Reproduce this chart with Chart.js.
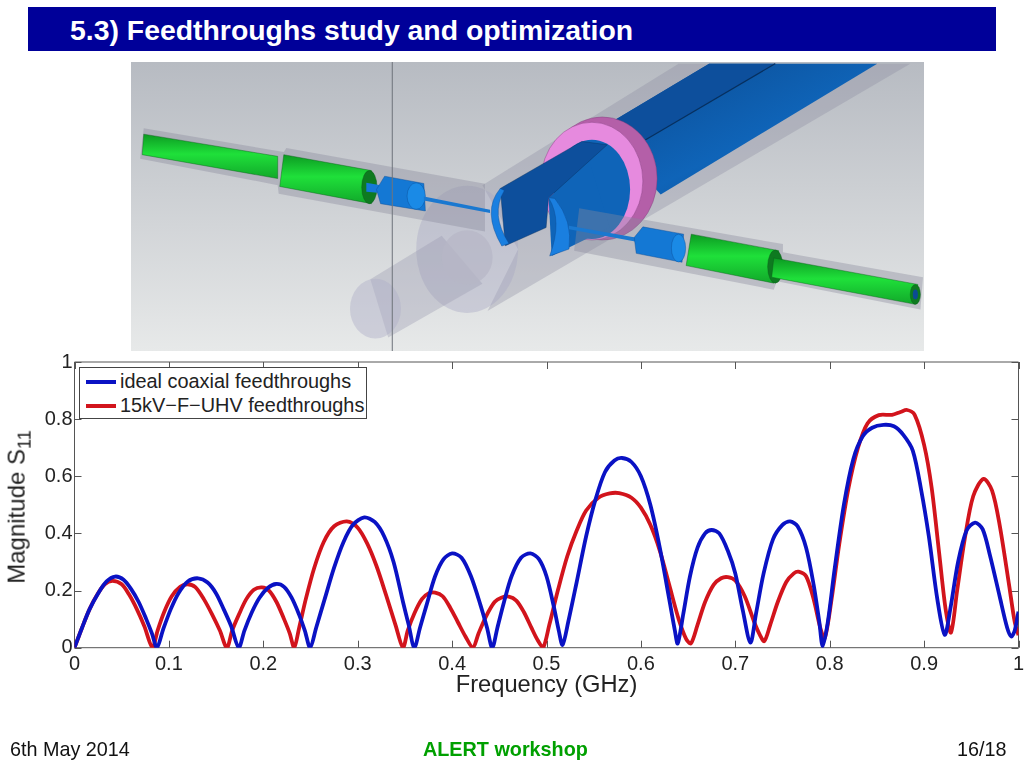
<!DOCTYPE html>
<html>
<head>
<meta charset="utf-8">
<title>Feedthroughs study and optimization</title>
<script src="https://cdn.jsdelivr.net/npm/chart.js@4/dist/chart.umd.min.js"></script>
<style>
html, body { margin: 0; padding: 0; background: #fff; font-family: "Liberation Sans", Arial, sans-serif; }
#page { position: relative; width: 1024px; height: 768px; overflow: hidden; }
#page > * { position: absolute; }
#titlebar { left: 28px; top: 7px; width: 968px; height: 44px; background: #000099; color: #fff; font-weight: bold; font-size: 28.4px; line-height: 46px; }
#titlebar span { margin-left: 42px; }
#model { left: 131px; top: 62px; }
#chart { left: 0; top: 0; }
#ylabel { left: 19px; top: 507px; font-size: 24px; color: #222; white-space: nowrap; transform: translate(-50%, -50%) rotate(-90deg); }
#ylabel sub { font-size: 18px; }
#legend { left: 79px; top: 367px; width: 286px; height: 50px; background: #fff; border: 1px solid #444; color: #222; font-size: 19.9px; }
#legend div { position: absolute; left: 6px; height: 24px; line-height: 24px; white-space: nowrap; }
#legend i { display: inline-block; width: 30px; height: 3.5px; vertical-align: middle; margin-right: 4px; position: relative; top: -1px; }
.foot { top: 738px; font-size: 19.8px; line-height: 22px; color: #111; }
</style>
</head>
<body>
<div id="page">
  <div id="titlebar"><span>5.3) Feedthroughs study and optimization</span></div>

  <svg id="model" width="793" height="289" viewBox="0 0 1557 873" preserveAspectRatio="none">
    <defs>
      <linearGradient id="bg" x1="0" y1="0" x2="0" y2="1"><stop offset="0" stop-color="#b7bbc2"/><stop offset="1" stop-color="#e7e9e9"/></linearGradient>
      <linearGradient id="bl" x1="0" y1="0" x2="1" y2="1"><stop offset="0" stop-color="#0b4b92"/><stop offset="0.55" stop-color="#0f64b8"/><stop offset="1" stop-color="#0a4686"/></linearGradient>
      <linearGradient id="gr" x1="0" y1="0" x2="0" y2="1"><stop offset="0" stop-color="#0c9a22"/><stop offset="0.45" stop-color="#1fe03a"/><stop offset="1" stop-color="#11a82a"/></linearGradient>
    </defs>
    <rect width="1557" height="873" fill="url(#bg)"/>
    <!-- outer transparent tubes -->
    <polygon points="1075,5 1530,5 700,752 760,566 690,372" fill="#8a8aa0" fill-opacity=".32"/>
    <ellipse cx="660" cy="566" rx="100" ry="192" fill="#a8a8c4" fill-opacity=".4"/>
    <polygon points="470,656 610,525 690,670 505,832" fill="#9898b0" fill-opacity=".35"/>
    <ellipse cx="480" cy="745" rx="50" ry="90" fill="#b0b0c8" fill-opacity=".45"/>
    <ellipse cx="660" cy="590" rx="50" ry="82" fill="#b6b6c6" fill-opacity=".7"/>
    <polygon points="25,200 300,272 305,260 695,368 695,512 290,398 288,372 18,292" fill="#8a8a9c" fill-opacity=".38"/>
    <!-- left green conductor -->
    <polygon points="25,218 288,285 288,352 22,280" fill="url(#gr)" stroke="#0a5c18"/>
    <polygon points="300,280 472,328 472,428 292,376" fill="url(#gr)" stroke="#0a5c18"/>
    <ellipse cx="468" cy="378" rx="15" ry="50" fill="#0e7a20" stroke="#0a5c18"/>
    <!-- left connector -->
    <polygon points="462,365 490,372 490,396 462,392" fill="#1578d8"/>
    <polygon points="498,345 575,367 578,450 490,428 482,385" fill="#1478d4" stroke="#0b4b92"/>
    <ellipse cx="560" cy="405" rx="18" ry="40" fill="#1a8ae6" stroke="#0b4b92"/>
    <polygon points="575,406 705,446 705,456 575,418" fill="#1a78d0"/>
    <!-- far part of the beam, ring, near part -->
    <polygon points="950,175 1135,5 1465,5 1040,400 980,300" fill="url(#bl)"/>
    <polygon points="950,175 1135,5 1265,5 1010,235" fill="#0d4f9c"/>
    <line x1="1010" y1="235" x2="1265" y2="5" stroke="#07305f" stroke-width="3"/>
    <ellipse cx="925" cy="352" rx="108" ry="186" fill="#b45fa8" stroke="#7e3c78"/>
    <ellipse cx="905" cy="360" rx="100" ry="178" fill="#e68ade" stroke="#7e3c78"/>
    <ellipse cx="905" cy="385" rx="75" ry="150" fill="#0f64b8"/>
    <polygon points="820,410 900,300 940,500 826,586" fill="#0f64b8"/>
    <polygon points="725,382 885,240 935,250 820,410 815,500 735,555" fill="#0d4f9c" stroke="#07305f"/>
    <path d="M725,382 Q688,450 728,556 L742,548 Q705,460 733,388 Z" fill="#1a7fe0" stroke="#0b4b92"/>
    <path d="M820,410 Q848,480 822,586 L860,565 Q868,480 832,412 Z" fill="#1a7fe0" stroke="#0b4b92"/>
    <polygon points="880,442 1280,550 1280,575 1555,650 1550,748 1268,662 1262,688 870,570" fill="#8a8a9c" fill-opacity=".38"/>
    <!-- right connector -->
    <polygon points="860,495 990,530 990,542 860,505" fill="#1a78d0"/>
    <polygon points="1005,498 1085,520 1082,605 992,578 988,530" fill="#1478d4" stroke="#0b4b92"/>
    <ellipse cx="1075" cy="562" rx="14" ry="42" fill="#1a8ae6" stroke="#0b4b92"/>
    <!-- right green conductor -->
    <polygon points="1100,520 1272,570 1262,668 1090,615" fill="url(#gr)" stroke="#0a5c18"/>
    <ellipse cx="1265" cy="618" rx="15" ry="50" fill="#0e7a20" stroke="#0a5c18"/>
    <polygon points="1262,592 1545,672 1540,732 1258,650" fill="url(#gr)" stroke="#0a5c18"/>
    <ellipse cx="1540" cy="702" rx="10" ry="30" fill="#0e7a20" stroke="#0a5c18"/>
    <ellipse cx="1540" cy="702" rx="5" ry="15" fill="#0b4b92"/>
    <line x1="513" y1="0" x2="513" y2="873" stroke="#70747c" stroke-width="2"/>
  </svg>

  <canvas id="chart" width="1024" height="768"></canvas>
  <div id="ylabel">Magnitude S<sub>11</sub></div>
  <div id="legend"></div>

  <div class="foot" style="left:10px">6th May 2014</div>
  <div class="foot" style="left:423px;color:#00a000;font-weight:bold">ALERT workshop</div>
  <div class="foot" style="left:957px">16/18</div>
</div>

<script>
var xTicks = [0, 0.1, 0.2, 0.3, 0.4, 0.5, 0.6, 0.7, 0.8, 0.9, 1];
var yTicks = [0, 0.2, 0.4, 0.6, 0.8, 1];

var idealLabel = 'ideal coaxial feedthroughs';
var idealColor = '#0a12c4';
var idealFreq = [0, .008, .016, .025, .034, .043, .052, .06, .068, .076, .082, .0873,
    .094, .102, .11, .12, .131, .141, .15, .158, .166, .174,
    .18, .188, .196, .205, .2136, .222, .23, .238, .244, .2496,
    .256, .265, .275, .285, .295, .307, .318, .328, .338, .348, .354, .36,
    .366, .373, .382, .391, .4, .41, .42, .43, .437, .4425,
    .448, .455, .463, .473, .483, .492, .5, .508, .513, .517,
    .523, .532, .542, .552, .562, .572, .58, .59, .6, .61, .62, .63, .636, .639,
    .645, .652, .66, .668, .675, .683, .692, .7, .708, .716,
    .722, .73, .74, .75, .758, .766, .775, .783, .789, .7926,
    .798, .805, .815, .825, .835, .845, .857, .868, .878, .888, .897, .905, .914, .9218,
    .928, .936, .945, .954, .962, .97, .98, .988, .9924, .996, 1];
var idealMag = [0, .07, .135, .19, .232, .249, .238, .205, .16, .1, .05, 0,
    .065, .135, .19, .232, .243, .228, .19, .135, .075, 0,
    .06, .125, .175, .21, .223, .213, .175, .115, .06, 0,
    .07, .17, .28, .37, .43, .456, .44, .39, .3, .16, .08, 0,
    .07, .15, .25, .31, .33, .315, .25, .15, .07, 0,
    .07, .16, .25, .315, .33, .31, .25, .14, .06, .01,
    .09, .23, .39, .52, .615, .655, .664, .65, .6, .5, .35, .17, .06, .015,
    .12, .25, .35, .4, .412, .4, .34, .26, .13, .018,
    .12, .26, .38, .43, .442, .425, .35, .22, .09, .005,
    .09, .27, .5, .66, .74, .77, .78, .775, .745, .69, .55, .39, .17, .045,
    .14, .3, .41, .438, .415, .32, .18, .07, .039, .06, .126];

var uhvLabel = '15kV\u2212F\u2212UHV feedthroughs';
var uhvColor = '#d2141c';
var uhvFreq = [0, .008, .016, .024, .032, .0403, .05, .058, .066, .074, .0826,
    .088, .095, .103, .112, .12, .128, .137, .146, .154, .1614,
    .167, .174, .182, .19, .1985, .206, .214, .222, .228, .2327,
    .238, .245, .254, .264, .275, .2885, .3, .31, .32, .33, .34, .348,
    .353, .36, .368, .375, .382, .39, .398, .406, .414, .422,
    .428, .436, .445, .452, .46, .468, .476, .484, .49, .4963,
    .503, .512, .522, .532, .542, .555, .567, .577, .59, .6, .61, .62, .63, .64, .648, .653,
    .66, .668, .677, .685, .692, .7, .71, .72, .726, .7307,
    .737, .745, .754, .762, .767, .775, .783, .79, .7947,
    .802, .81, .82, .83, .84, .852, .866, .875, .882, .89, .9, .908, .916, .923, .9285,
    .935, .943, .952, .963, .972, .98, .99, .996, 1];
var uhvMag = [0, .07, .135, .185, .222, .234, .222, .185, .135, .075, 0,
    .06, .125, .18, .213, .222, .212, .17, .115, .06, 0,
    .06, .115, .17, .203, .211, .2, .16, .1, .05, 0,
    .07, .17, .28, .37, .425, .442, .42, .365, .285, .185, .08, 0,
    .06, .12, .17, .19, .193, .18, .14, .09, .04, 0,
    .05, .11, .16, .175, .179, .165, .125, .07, .03, 0,
    .08, .2, .32, .41, .48, .525, .54, .541, .525, .49, .43, .34, .22, .1, .03, .015,
    .08, .16, .22, .243, .247, .235, .18, .09, .045, .023,
    .08, .16, .23, .26, .266, .25, .17, .07, .033,
    .17, .36, .56, .7, .785, .814, .815, .825, .832, .815, .71, .56, .33, .13, .053,
    .2, .38, .53, .591, .55, .43, .22, .09, .044];

function toPoints(xs, ys) {
    return xs.map(function(x, i) { return { x: x, y: ys[i] }; });
}

// matlab style box with short ticks pointing into the plot
var matlabBox = {
    id: 'matlabBox',
    beforeDatasetsDraw: function(chart) {
        var ctx = chart.ctx, a = chart.chartArea, len = 7;
        ctx.save();
        ctx.strokeStyle = '#555';
        ctx.lineWidth = 1;
        ctx.beginPath();
        xTicks.forEach(function(t) {
            var px = Math.round(chart.scales.x.getPixelForValue(t)) + 0.5;
            ctx.moveTo(px, a.bottom); ctx.lineTo(px, a.bottom - len);
            ctx.moveTo(px, a.top); ctx.lineTo(px, a.top + len);
        });
        yTicks.forEach(function(t) {
            var py = Math.round(chart.scales.y.getPixelForValue(t)) + 0.5;
            ctx.moveTo(a.left, py); ctx.lineTo(a.left + len, py);
            ctx.moveTo(a.right, py); ctx.lineTo(a.right - len, py);
        });
        ctx.rect(a.left, a.top, a.right - a.left, a.bottom - a.top);
        ctx.stroke();
        ctx.restore();
    }
};

var tickFont = { family: '"Liberation Sans", Arial, sans-serif', size: 20 };

new Chart(document.getElementById('chart').getContext('2d'), {
    type: 'line',
    data: {
        datasets: [
            { label: idealLabel, data: toPoints(idealFreq, idealMag), borderColor: idealColor },
            { label: uhvLabel, data: toPoints(uhvFreq, uhvMag), borderColor: uhvColor }
        ]
    },
    plugins: [matlabBox],
    options: {
        responsive: false,
        animation: false,
        layout: { padding: { top: 362, right: 5.5, bottom: 68, left: 0 } },
        elements: {
            point: { radius: 0 },
            line: { borderWidth: 3.8, tension: 0.3, borderJoinStyle: 'round' }
        },
        plugins: { legend: { display: false }, tooltip: { enabled: false } },
        scales: {
            x: {
                type: 'linear', min: 0, max: 1,
                grid: { display: false },
                border: { display: false },
                afterFit: function(s) { s.height = 52.3; s.paddingLeft = 0; s.paddingRight = 0; },
                afterBuildTicks: function(s) { s.ticks = xTicks.map(function(v) { return { value: v }; }); },
                ticks: {
                    color: '#222', font: tickFont, padding: -3, maxRotation: 0,
                    callback: function(v) { return String(v); }
                },
                title: {
                    display: true, text: 'Frequency (GHz)', color: '#222',
                    font: { family: tickFont.family, size: 23.7 }, padding: { top: 0, bottom: 0 }
                }
            },
            y: {
                type: 'linear', min: 0, max: 1,
                grid: { display: false },
                border: { display: false },
                afterFit: function(s) { s.width = 74.5; s.paddingTop = 0; s.paddingBottom = 0; },
                afterBuildTicks: function(s) { s.ticks = yTicks.map(function(v) { return { value: v }; }); },
                ticks: {
                    color: '#222', font: tickFont, padding: -6,
                    callback: function(v) { return String(v); }
                }
            }
        }
    }
});

// legend box sits over the plot, built from the series names and colours
var legendBox = document.getElementById('legend');
[[idealLabel, idealColor, 1], [uhvLabel, uhvColor, 25]].forEach(function(item) {
    var row = document.createElement('div');
    row.style.top = item[2] + 'px';
    var swatch = document.createElement('i');
    swatch.style.background = item[1];
    row.appendChild(swatch);
    row.appendChild(document.createTextNode(item[0]));
    legendBox.appendChild(row);
});
</script>
</body>
</html>
